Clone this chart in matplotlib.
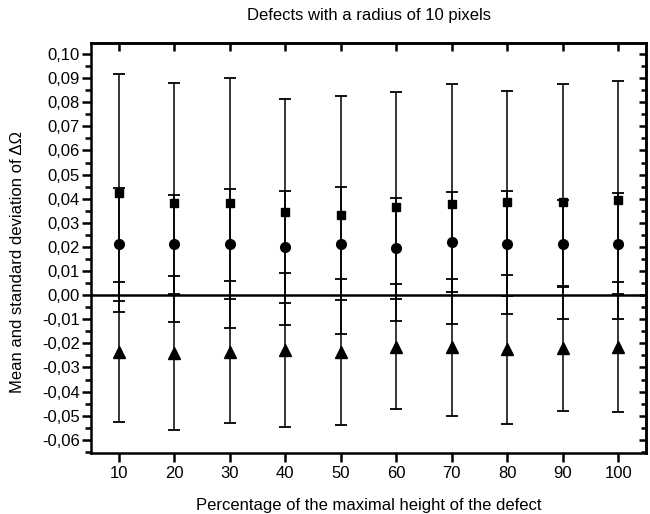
# -------------------------------------------------------------------
# Mean and standard deviation of delta Omega, defects of radius 10 px
# -------------------------------------------------------------------

import matplotlib
matplotlib.use('Agg')
import matplotlib.pyplot as plt
from matplotlib.ticker import MultipleLocator, FuncFormatter

plt.rcParams['font.family'] = ['Liberation Sans', 'DejaVu Sans']

# -------------------------------------------------------
# Data
# -------------------------------------------------------

heights = [10, 20, 30, 40, 50, 60, 70, 80, 90, 100]

square_mean = [0.0422, 0.0383, 0.0382, 0.0346, 0.0332, 0.0367, 0.0378, 0.0385, 0.0387, 0.0394]
square_std = [0.0494, 0.0495, 0.0518, 0.0468, 0.0494, 0.0474, 0.0497, 0.0462, 0.0488, 0.0493]

circle_mean = [0.0210, 0.0210, 0.0214, 0.0201, 0.0214, 0.0194, 0.0219, 0.0214, 0.0214, 0.0214]
circle_std = [0.0234, 0.0205, 0.0228, 0.0232, 0.0234, 0.0208, 0.0208, 0.0219, 0.0180, 0.0210]

triangle_mean = [-0.0237, -0.0239, -0.0235, -0.0228, -0.0235, -0.0214, -0.0217, -0.0225, -0.0221, -0.0214]
triangle_std = [0.0290, 0.0320, 0.0295, 0.0320, 0.0303, 0.0260, 0.0283, 0.0308, 0.0259, 0.0270]

# -------------------------------------------------------

fig = plt.figure(figsize=(6.5, 5.14), dpi=100)
ax = fig.add_axes([0.140, 0.119, 0.854, 0.798])

ax.axhline(0, color='black', lw=1.8, zorder=1)

ebar = dict(fmt='none', ecolor='black', elinewidth=1.1, capsize=4.5, capthick=1.3, zorder=2)
ax.errorbar(heights, square_mean, yerr=square_std, **ebar)
ax.errorbar(heights, circle_mean, yerr=circle_std, **ebar)
ax.errorbar(heights, triangle_mean, yerr=triangle_std, **ebar)

ax.plot(heights, square_mean, 's', color='black', ms=6, zorder=3)
ax.plot(heights, circle_mean, 'o', color='black', ms=7, zorder=3)
ax.plot(heights, triangle_mean, '^', color='black', ms=8, zorder=3)

ax.set_xlim(5, 105)
ax.set_ylim(-0.0654, 0.1047)

ax.set_xticks(heights)
ax.yaxis.set_major_locator(MultipleLocator(0.01))
ax.yaxis.set_minor_locator(MultipleLocator(0.005))
ax.yaxis.set_major_formatter(FuncFormatter(lambda v, p: ('%.2f' % v).replace('.', ',').replace('-0,00', '0,00')))

ax.tick_params(axis='both', which='major', direction='out', length=6.5, width=1.8, labelsize=12)
ax.tick_params(axis='y', which='major', pad=1.5)
ax.tick_params(axis='x', which='major', pad=3)
ax.tick_params(axis='y', which='minor', direction='out', length=4, width=1.8)

for s in ax.spines.values():
    s.set_linewidth(1.8)

# top and right axes with inward ticks, no labels
top = ax.secondary_xaxis('top')
top.set_xticks(heights)
top.set_xticklabels([])
top.tick_params(direction='in', length=5.5, width=1.8)
top.spines['top'].set_linewidth(1.8)

right = ax.secondary_yaxis('right')
right.yaxis.set_major_locator(MultipleLocator(0.01))
right.yaxis.set_minor_locator(MultipleLocator(0.005))
right.set_yticklabels([])
right.tick_params(which='major', direction='in', length=5, width=1.8)
right.tick_params(which='minor', direction='in', length=3.5, width=1.8)
right.spines['right'].set_linewidth(1.8)

ax.set_title('Defects with a radius of 10 pixels', fontsize=12, pad=16)
ax.set_xlabel('Percentage of the maximal height of the defect', fontsize=12, labelpad=12)
ax.set_ylabel('Mean and standard deviation of \u0394\u03a9', fontsize=12)
ax.yaxis.set_label_coords(-0.118, 0.465)

fig.savefig('out.png', dpi=100)
